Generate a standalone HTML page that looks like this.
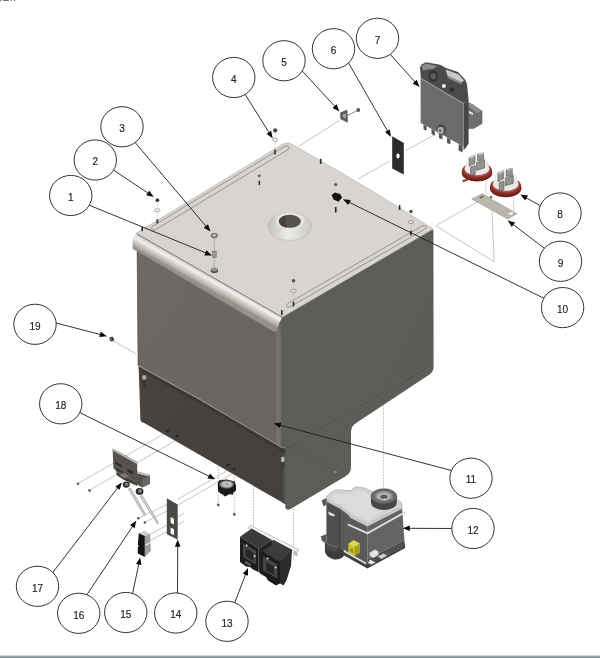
<!DOCTYPE html>
<html><head><meta charset="utf-8"><title>Exploded view</title>
<style>
html,body{margin:0;padding:0;background:#fff;}
svg{display:block}
.n{font-family:"Liberation Sans",Arial,sans-serif;font-size:10px;fill:#222;stroke:#222;stroke-width:0.15px}
</style></head><body>
<svg width="600" height="658" viewBox="0 0 600 658">
<defs>
<linearGradient id="gFront" x1="0" y1="0" x2="1" y2="1">
<stop offset="0" stop-color="#6e6964"/><stop offset="0.5" stop-color="#6b6661"/><stop offset="1" stop-color="#6a6560"/>
</linearGradient>
<linearGradient id="gLow" x1="0" y1="0" x2="1" y2="1">
<stop offset="0" stop-color="#48433f"/><stop offset="1" stop-color="#443f3b"/>
</linearGradient>
<linearGradient id="gRight" x1="0" y1="0" x2="1" y2="1">
<stop offset="0" stop-color="#5d5e58"/><stop offset="1" stop-color="#5b5c56"/>
</linearGradient>
<linearGradient id="gLid" x1="0" y1="0" x2="1" y2="0">
<stop offset="0" stop-color="#d7d3ce"/><stop offset="1" stop-color="#d9d5d0"/>
</linearGradient>
<linearGradient id="gLip" gradientUnits="userSpaceOnUse" x1="205" y1="272.6" x2="198.8" y2="283.6">
<stop offset="0" stop-color="#c9c5be"/><stop offset="0.3" stop-color="#f3f1ec"/><stop offset="0.55" stop-color="#d6d2cb"/><stop offset="0.85" stop-color="#b3afa8"/><stop offset="1" stop-color="#96928b"/>
</linearGradient>
<linearGradient id="gCone" x1="0" y1="0" x2="1" y2="0">
<stop offset="0" stop-color="#c3c1bc"/><stop offset="0.45" stop-color="#ecebe7"/><stop offset="1" stop-color="#cbc9c4"/>
</linearGradient>
<linearGradient id="gStrip" x1="0" y1="0" x2="0" y2="1">
<stop offset="0" stop-color="#f2f4f4"/><stop offset="0.3" stop-color="#b4bec0"/><stop offset="1" stop-color="#6b7b80"/>
</linearGradient>
</defs>
<rect x="0" y="0" width="600" height="658" fill="#fff"/>
<!-- bottom strip -->
<rect x="0" y="655" width="600" height="3" fill="url(#gStrip)"/>
<!-- cropped header remnant -->
<g fill="#4a4a4a" opacity="0.8"><rect x="0" y="0" width="1.3" height="1"/><rect x="3.3" y="0" width="5.4" height="1"/><rect x="10.7" y="0" width="1.3" height="0.9"/><rect x="14" y="0" width="1.3" height="0.9"/></g>

<!-- ===== faint explode lines (behind) ===== -->
<g stroke="#bcbcbc" stroke-width="0.85" fill="none">
<path d="M298.5 146.5 L340 120"/>
<path d="M347 116 L357 110.5"/>
<path d="M358 179 L390 161"/>
<path d="M405 151 L436 134"/>
<path d="M477.5 201.7 L435.8 225.8 L494.2 261.7 L491.8 207"/>
<path d="M112 340 L136 354"/>
<path d="M79 483 L167 432"/>
<path d="M90 490 L178 439"/>
<path d="M139.4 517.8 L167 504.4"/>
<path d="M145.8 521.8 L167 511"/>
<path d="M150.4 534.2 L167 525"/>
<path d="M150.4 540.4 L167 531.6"/>
<path d="M177.7 499.2 L227 470.8"/>
<path d="M177.7 505.2 L233.6 473"/>
<path d="M177.7 516.8 L184.4 513"/>
<path d="M177.7 524.8 L184.4 521"/>
</g>
<g stroke="#a4a4a4" stroke-width="0.75" fill="none" stroke-dasharray="1.6 1.3">
<path d="M253.5 480 L253.5 527"/>
<path d="M293.5 500 L293.5 560"/>
<path d="M383.6 399 L383.6 491"/>
<path d="M218.3 460 L218.3 504"/>
<path d="M234.3 462 L234.3 514"/>
</g>

<!-- ===== MAIN BOX ===== -->
<!-- right face incl. skirt -->
<path d="M281.3 316.8 L432 229 L433.4 230.2 L433.6 366.5 Q433.6 372 429.5 374.6 L356.5 422.8 Q351 426.2 351 432 L351 467 Q351 473 346 476 L290.5 509 Q287 510.8 285.3 508 L285.3 447 L281.3 447 Z" fill="url(#gRight)"/>
<!-- right face rim lines -->
<path d="M286 446.4 L432.6 363.4" stroke="#6b6c66" stroke-width="0.7" fill="none"/>
<path d="M286 447.4 L432.6 364.4" stroke="#4d4e49" stroke-width="0.8" fill="none"/>
<path d="M286.5 445 L334 470.6" stroke="#4f504b" stroke-width="0.6" fill="none"/>
<ellipse cx="335.4" cy="472" rx="1.7" ry="1.1" fill="#8c8c87"/>
<!-- upper front face -->
<path d="M137 245 L268 320 L281.3 317.4 L281.3 447.8 L198 398.6 L138 365.6 Z" fill="url(#gFront)"/>
<!-- light strip near corner -->
<path d="M276.3 327 L281.3 330 L281.3 447.5 L276.3 444.7 Z" fill="#7a7670" opacity="0.7"/>
<path d="M281.3 318 L281.3 447" stroke="#4e4e4a" stroke-width="0.8"/>
<path d="M137.2 249 L138.2 365.8" stroke="#595651" stroke-width="0.8"/>
<!-- lower front panel -->
<path d="M138.6 366 L198 398.4 L281.3 447.4 L285.5 447.4 L285.5 504.3 L143.8 422.7 Q140.6 422.4 140.4 419.4 Z" fill="url(#gLow)"/>
<path d="M282.6 447.4 L285.5 447.4 L285.5 504.4 L282.6 502.8 Z" fill="#4c4d48"/>
<!-- seam highlight -->
<path d="M137.8 365.6 L198 398.5 L282 447.8" stroke="#a19d97" stroke-width="1.1" fill="none"/>
<path d="M138.8 366.6 L198 399 L285.4 450 L285.4 453.4 L198 402.6 L139 370.2 Z" fill="#3a3632" opacity="0.85"/>
<!-- latches -->
<rect x="142.6" y="379.4" width="3.2" height="7.4" rx="0.6" fill="#39352f"/>
<rect x="142.2" y="375.2" width="4" height="4.6" rx="0.8" fill="#b3b0aa" stroke="#55524e" stroke-width="0.4"/>
<rect x="281.4" y="461.4" width="3" height="5" rx="0.6" fill="#3b3a36"/>
<rect x="281" y="456.8" width="3.6" height="5.2" rx="0.8" fill="#bdbab4" stroke="#55524e" stroke-width="0.4"/>
<!-- little slots on the bottom edge -->
<g stroke="#1e1c1a" stroke-width="1.3" stroke-linecap="round">
<path d="M166.3 431.4 L168.5 430.3"/><path d="M176 436.9 L178.2 435.8"/>
<path d="M226.8 465.6 L229.2 464.4"/><path d="M233 469.2 L235.4 468"/>
</g>

<!-- ===== LID ===== -->
<path d="M135.6 233.5 L281 145.2 Q286.5 141.4 292 144.2 L337 170.3 L370 189.8 L432.4 228.2 Q433.2 229 432 229.8 L283.5 316.6 Q282 317.4 280.5 316.6 Z" fill="url(#gLid)" stroke="#a09d97" stroke-width="0.5"/>
<!-- lid grooves -->
<g fill="#d8d4cf" stroke="#7d7a75" stroke-width="0.7">
<path d="M152.6 226.2 L284.4 146.4 Q287.2 145 288.8 146.8 Q289.6 148.6 287.4 150 L155.2 229.8 Q152.6 231 151.6 229.2 Q151.2 227.4 152.6 226.2 Z"/>
<path d="M287.6 303.6 L422 226 Q424.6 224.8 426 226.4 Q426.6 228 424.8 229.2 L290.2 306.8 Q287.6 308 286.4 306.4 Q286 304.8 287.6 303.6 Z"/>
</g>
<!-- lid front lip -->
<path d="M137.2 234 Q132.3 236.4 132.4 242 L132.7 248.4 L273 331 Q276 332.6 277.4 329.4 Q279.2 322 282.2 317.2 Z" fill="url(#gLip)"/>
<path d="M132.7 248.4 L273 331 Q276 332.6 277.4 329.4" stroke="#8a867f" stroke-width="0.8" fill="none"/>
<path d="M137.2 234 L282.2 317.2" stroke="#75726d" stroke-width="0.9" fill="none"/>

<!-- hole / cone -->
<ellipse cx="289.7" cy="226.4" rx="21.8" ry="14" fill="url(#gCone)" stroke="#b5b3ad" stroke-width="0.5"/>
<ellipse cx="290" cy="221" rx="14" ry="8.8" fill="#e6e4df"/>
<ellipse cx="289.8" cy="221.3" rx="11" ry="6.5" fill="#55524f"/>
<path d="M286 215.4 A11 6.5 0 0 0 286 227.4 Z" fill="#454240"/>

<!-- ===== lid hardware ===== -->
<g id="hw">
<!-- generic bolts (dark little studs) -->
<g fill="#2a2a2a">
<rect x="141.4" y="226.6" width="1.6" height="4.6" rx="0.6"/>
<rect x="156.6" y="219" width="1.6" height="4.6" rx="0.6"/>
<rect x="274.2" y="149.5" width="1.6" height="5" rx="0.6"/>
<rect x="258.6" y="180.5" width="1.5" height="4.6" rx="0.6"/>
<circle cx="259.3" cy="175.8" r="1.4" fill="#555"/>
<rect x="319.9" y="158.8" width="1.6" height="5.2" rx="0.6"/>
<rect x="334.9" y="207" width="1.7" height="5.6" rx="0.6"/>
<circle cx="335.7" cy="184.4" r="1.5" fill="#555"/>
<rect x="398.8" y="205" width="1.6" height="5" rx="0.6"/>
<rect x="410.2" y="230.5" width="1.6" height="5" rx="0.6"/>
<rect x="292.7" y="301.5" width="1.6" height="5" rx="0.6"/>
<rect x="281" y="310" width="1.6" height="5.2" rx="0.6"/>
</g>
<!-- nut+washer stacks -->
<g>
<line x1="157.4" y1="201" x2="157.4" y2="221" stroke="#aaa" stroke-width="0.5" stroke-dasharray="1 1"/>
<circle cx="157.4" cy="200.2" r="1.9" fill="#3c3c3c"/>
<ellipse cx="157.4" cy="210.2" rx="2.6" ry="1.6" fill="#fff" stroke="#777" stroke-width="0.65"/>
<line x1="275" y1="131" x2="275" y2="150" stroke="#aaa" stroke-width="0.5" stroke-dasharray="1 1"/>
<circle cx="275.2" cy="130.4" r="2.1" fill="#454545"/>
<ellipse cx="275.2" cy="139.8" rx="2.6" ry="1.6" fill="#fff" stroke="#777" stroke-width="0.65"/>
<line x1="411" y1="212" x2="411" y2="231" stroke="#aaa" stroke-width="0.5" stroke-dasharray="1 1"/>
<circle cx="411" cy="211.4" r="1.7" fill="#4a4a4a"/>
<ellipse cx="411" cy="222" rx="2.6" ry="1.6" fill="#e8e6e1" stroke="#777" stroke-width="0.65"/>
<line x1="293.5" y1="281" x2="293.5" y2="302" stroke="#aaa" stroke-width="0.5" stroke-dasharray="1 1"/>
<circle cx="293.5" cy="280.8" r="1.7" fill="#4a4a4a"/>
<ellipse cx="293.5" cy="290.8" rx="2.6" ry="1.6" fill="#e8e6e1" stroke="#777" stroke-width="0.65"/>
</g>
<!-- part 3 nut, part 1 clip + foot -->
<line x1="214.3" y1="238" x2="214.3" y2="268" stroke="#9a9a9a" stroke-width="0.7"/>
<ellipse cx="214.3" cy="235.6" rx="3.3" ry="2.3" fill="#8a8885" stroke="#4a4a4a" stroke-width="0.6"/>
<ellipse cx="214.3" cy="235.2" rx="1.4" ry="0.9" fill="#d8d6d2"/>
<rect x="212.6" y="251.2" width="3.6" height="6.2" fill="#9a9894" stroke="#5a5856" stroke-width="0.5"/>
<ellipse cx="214.4" cy="270.6" rx="3.7" ry="2.5" fill="#3b3d42"/>
<ellipse cx="214.4" cy="269.4" rx="3.3" ry="2" fill="#8d9096"/>
<!-- part 10 cube -->
<path d="M331.6 195 L335 192.6 L340 194 L342.2 197.5 L338.5 201.8 L333.5 199.6 Z" fill="#121212"/>
</g>

<!-- ===== part 5: small bracket + nut ===== -->
<g id="p5">
<line x1="347.5" y1="115.5" x2="357" y2="110.6" stroke="#777" stroke-width="0.6"/>
<path d="M340.5 112.8 L347 110 L347.5 122.3 L340.8 119 Z" fill="#5b5a57" stroke="#3c3c3a" stroke-width="0.5"/>
<path d="M342.6 114.6 L345.8 113.4 L346 118.6 L342.8 117.2 Z" fill="#a9a8a4"/>
<circle cx="358.3" cy="110" r="1.9" fill="#5a5a5a"/>
</g>

<!-- ===== part 6: black plate ===== -->
<g id="p6">
<path d="M392.2 136.2 L403.8 143 L403.8 174.5 L392.2 168.5 Z" fill="#2c2c2b"/>
<ellipse cx="398" cy="155.8" rx="1.7" ry="2.6" fill="#fff"/>
</g>

<!-- ===== part 7: actuator ===== -->
<g id="p7">
<!-- side protrusion -->
<path d="M466 101.8 L472 104.3 L482 111 L482 123.6 L473.6 128.6 L467 128.6 Z" fill="#6e6e6c" stroke="#4a4a48" stroke-width="0.5"/>
<path d="M466 101.8 L472 104.3 L482 111 L477.5 113 L468 106 Z" fill="#8e8e8c"/>
<path d="M468.6 110.8 L473 113 L473 115 L468.6 113 Z" fill="#efefef"/>
<!-- right side strip -->
<path d="M463.5 103.5 L468.6 100 L468.6 143.6 L466 147.5 L463.5 150.3 Z" fill="#474745"/>
<!-- top mechanism -->
<path d="M420 67.5 L421.5 64.5 L426 62.2 L440 64.8 L446 68 L458 72 L465 79.5 L467 84 L468.6 100 L463.5 103.5 L420.9 78.4 Z" fill="#4b4b49"/>
<path d="M421.5 65.8 L426 63.6 L437 66 L434 68.5 L423 70.5 Z" fill="#8e8e8c"/>
<path d="M445.5 69.5 L458.5 74.2 L464 80.5 L461.5 82.6 L447.5 75.8 Z" fill="#c9c9c7"/>
<path d="M447.5 75.8 L461.5 82.6 L461.5 84.6 L447.5 78 Z" fill="#8a8a88"/>
<ellipse cx="433.3" cy="76.2" rx="4.8" ry="5.6" fill="#343433"/>
<ellipse cx="433.3" cy="76.2" rx="2.6" ry="3.1" fill="#5e5e5c"/>
<circle cx="443.9" cy="86" r="2" fill="#f2f2f2"/>
<circle cx="452" cy="89.5" r="2.2" fill="#2e2e2d"/>
<!-- front face -->
<path d="M420.9 78.4 L463.5 103.5 L463.5 146.5 L420.9 123 Z" fill="#6b6b69"/>
<path d="M420.9 78.4 L463.5 103.5" stroke="#a3a3a1" stroke-width="1" fill="none"/>
<path d="M420.9 78.4 L420.9 123" stroke="#8a8a88" stroke-width="0.7" fill="none"/>
<!-- feet -->
<g fill="#555553">
<path d="M423.5 124.5 L426.5 126.2 L426.5 130.8 L423.5 129.2 Z"/>
<path d="M431.5 129 L434.8 130.8 L434.8 135.6 L431.5 134 Z"/>
<path d="M439 133.2 L442.4 135 L442.4 139.6 L439 138 Z"/>
<path d="M447 137.6 L450.4 139.4 L450.4 144.4 L447 142.8 Z"/>
<path d="M458.6 144 L462.6 146 L462.6 152.4 L458.6 150.6 Z"/>
</g>
<!-- round connector -->
<ellipse cx="441.4" cy="129.6" rx="4.6" ry="5" fill="#4a4a48"/>
<ellipse cx="440.6" cy="130.4" rx="3.1" ry="3.4" fill="#b9b9b7"/>
<ellipse cx="440.2" cy="130.8" rx="1.5" ry="1.7" fill="#6a6a68"/>
</g>

<!-- ===== part 9: plate ===== -->
<g id="p9">
<path d="M471.7 199 L482.3 193.7 L517 213.7 L507.7 219 Z" fill="#b9b6ab" stroke="#8f8c82" stroke-width="0.5"/>
<path d="M479.2 197.4 L482.6 195.8 L484 196.6 L480.6 198.3 Z" fill="#4e4c48"/>
<path d="M508.4 213.8 L512 212 L513.8 213 L510.2 214.9 Z" fill="#fff"/>
<circle cx="491" cy="197.2" r="1.2" fill="#7a3a34"/>
<line x1="486" y1="181" x2="486" y2="196.3" stroke="#b5b5b5" stroke-width="0.6"/>
<line x1="491.4" y1="197" x2="491.8" y2="208" stroke="#b5b5b5" stroke-width="0.6"/>
<line x1="513.6" y1="197" x2="513.6" y2="211.5" stroke="#b5b5b5" stroke-width="0.6"/>
</g>

<!-- ===== part 8: pressure switches ===== -->
<g id="p8">
<path d="M462.2 180.2 L467.5 178.8 L468.0 180.6 L462.8 182.2 Z" fill="#8c3a30"/>
<ellipse cx="477" cy="172.8" rx="15.3" ry="8.8" fill="#6f231c"/>
<ellipse cx="477" cy="170.6" rx="14.9" ry="8.2" fill="#8e3129"/>
<ellipse cx="477" cy="169.8" rx="13.1" ry="7.0" fill="#a8564e"/>
<path d="M464.6 168.6 A12.4 6.6 0 0 0 489.4 168.6 L487.4 161.6 L466.6 161.6 Z" fill="#e9e9e7"/>
<ellipse cx="477" cy="161.6" rx="10.4" ry="5.6" fill="#f8f8f7" stroke="#cfcfcd" stroke-width="0.4"/>
<g fill="#93938f" stroke="#454543" stroke-width="0.55">
<path d="M469.2 157.8 L475.0 155.0 L475.0 163.2 L469.2 166.0 Z"/>
<path d="M477.6 154.2 L483.6 152.8 L483.6 159.6 L477.6 161.0 Z"/>
<path d="M476.6 162.6 L484.6 160.0 L484.6 167.8 L476.6 170.4 Z"/>
<path d="M470.6 167.0 L475.2 165.4 L475.2 174.4 L470.6 176.0 Z"/>
</g>
<g fill="#d6d6d4">
<path d="M469.2 157.8 L475.0 155.0 L476.4 155.8 L470.6 158.6 Z"/>
<path d="M477.6 154.2 L483.6 152.8 L485.0 153.6 L479.0 155.0 Z"/>
</g>
<ellipse cx="505.7" cy="188.2" rx="15.8" ry="9.1" fill="#6f231c"/>
<ellipse cx="505.7" cy="186.0" rx="15.4" ry="8.5" fill="#8e3129"/>
<ellipse cx="505.7" cy="185.2" rx="13.6" ry="7.3" fill="#a8564e"/>
<path d="M492.9 184.0 A12.8 6.8 0 0 0 518.5 184.0 L516.4 177.0 L495.0 177.0 Z" fill="#e9e9e7"/>
<ellipse cx="505.7" cy="177.0" rx="10.7" ry="5.8" fill="#f8f8f7" stroke="#cfcfcd" stroke-width="0.4"/>
<g fill="#93938f" stroke="#454543" stroke-width="0.55">
<path d="M497.9 173.2 L503.7 170.4 L503.7 178.6 L497.9 181.4 Z"/>
<path d="M506.3 169.6 L512.3 168.2 L512.3 175.0 L506.3 176.4 Z"/>
<path d="M505.3 178.0 L513.3 175.4 L513.3 183.2 L505.3 185.8 Z"/>
<path d="M499.3 182.4 L503.9 180.8 L503.9 189.8 L499.3 191.4 Z"/>
</g>
<g fill="#d6d6d4">
<path d="M497.9 173.2 L503.7 170.4 L505.1 171.2 L499.3 174.0 Z"/>
<path d="M506.3 169.6 L512.3 168.2 L513.7 169.0 L507.7 170.4 Z"/>
</g>
</g>

<!-- ===== part 19: screw ===== -->
<g id="p19">
<path d="M109.4 337.4 L112.6 336.6 L114.4 339.8 L112 341.8 L110 340.6 Z" fill="#3a3a38"/>
<circle cx="111.4" cy="338.8" r="0.9" fill="#777775"/>
</g>

<!-- ===== part 17: bracket with rollers and rods ===== -->
<g id="p17">
<!-- screws -->
<circle cx="78" cy="483.8" r="1.4" fill="#6a6a68"/>
<circle cx="89.5" cy="490.5" r="1.4" fill="#6a6a68"/>
<!-- rods -->
<path d="M128.4 489 L130.6 488 L145.4 513.8 L144.2 515.4 Z" fill="#d2d2d0" stroke="#7b7b79" stroke-width="0.5"/>
<path d="M140 496.6 L142.2 495.4 L158.4 522.4 L157.6 524 Z" fill="#d2d2d0" stroke="#7b7b79" stroke-width="0.5"/>
<!-- tray -->
<path d="M137 471.4 L150 474.9 L150 483.8 L142.4 487.4 L137 484.6 Z" fill="#54514d"/>
<path d="M137 471.4 L150 474.9 L148.6 476.4 L137 473.4 Z" fill="#c2c0bb"/>
<path d="M142.4 479 L150 476 L150 483.8 L142.4 487.4 Z" fill="#6b6864"/>
<!-- back plate -->
<path d="M112.6 448.5 L137.2 462 L137.2 482.6 L116.4 471.6 L113.4 468 Z" fill="#56534f"/>
<path d="M112.6 448.5 L137.2 462 L137.2 464.2 L112.6 450.6 Z" fill="#b9b6b0"/>
<g fill="#2f2d2b">
<path d="M115.2 461.4 L121.8 465 L121.8 467.6 L115.2 464 Z"/>
<path d="M127.2 468.4 L133 471.6 L133 474.4 L127.2 471.2 Z"/>
<path d="M116.6 468.2 L122.4 471.4 L122.4 473.4 L116.6 470.2 Z"/>
</g>
<path d="M116.4 471.6 L137.2 482.6 L137.2 486 L124 480 L116.4 475 Z" fill="#46433f"/>
<path d="M119.6 475.2 L123.6 473.2 L129 476 L125 478.2 Z" fill="#7d7a75"/>
<!-- rollers -->
<ellipse cx="126.2" cy="484.6" rx="3.5" ry="3.1" fill="#302f2d"/>
<ellipse cx="126.6" cy="484.2" rx="1.7" ry="1.5" fill="#8c8a86"/>
<ellipse cx="139.6" cy="491.4" rx="3.9" ry="3.4" fill="#302f2d"/>
<ellipse cx="140" cy="491" rx="1.9" ry="1.7" fill="#8c8a86"/>
</g>

<!-- ===== part 16: screws ===== -->
<g id="p16" fill="#5a5a58">
<circle cx="138.3" cy="518.3" r="1.3"/>
<circle cx="144.9" cy="522.5" r="1.3"/>
</g>

<!-- ===== part 15: microswitch ===== -->
<g id="p15">
<path d="M138.8 533.2 L144.3 530.6 L150.1 533.8 L144.8 536.1 Z" fill="#cfcfcd"/>
<path d="M144.8 536.1 L150.1 533.8 L150.9 550.7 L144.8 557.1 Z" fill="#9d9d9b"/>
<path d="M144.8 544.6 L150.5 542 L150.5 543.4 L144.8 546 Z" fill="#e2e2e0"/>
<path d="M138.8 533.2 L144.8 536.1 L144.8 557.1 L137.8 553.6 L137.8 547 L139 546 L137.8 544.4 Z" fill="#121212"/>
</g>

<!-- ===== part 14: plate with 2 square holes ===== -->
<g id="p14">
<path d="M166.8 498.2 L177.7 504.6 L177.7 539.6 L166.8 534.3 Z" fill="#4b4946"/>
<path d="M170.6 517 L174 518.8 L174 524.4 L170.6 522.8 Z" fill="#fff"/>
<path d="M170.6 527.4 L174 529.2 L174 535 L170.6 533.4 Z" fill="#fff"/>
</g>

<!-- ===== part 18 ===== -->
<g id="p18">
<circle cx="218.3" cy="505" r="1.4" fill="#5a5a58"/>
<circle cx="234.3" cy="514.5" r="1.4" fill="#5a5a58"/>
<path d="M217.8 483.4 L219 480.4 L226.5 479.4 L234.6 481.6 L236 485.6 L236 490.4 L233.4 492.6 L232.6 495 L230 494 L227 495.4 L224.6 496.4 L222.8 494.4 L220.4 493.6 L218 491 Z" fill="#191919"/>
<ellipse cx="226.6" cy="484.4" rx="7.2" ry="4.2" fill="#8d8b86" stroke="#42413f" stroke-width="0.6"/>
<ellipse cx="226.8" cy="484.2" rx="4.8" ry="2.7" fill="#c6c4bf"/>
<ellipse cx="227" cy="484" rx="1.6" ry="1" fill="#8d8b86"/>
</g>

<!-- ===== part 13: double pump on rail ===== -->
<g id="p13">
<!-- rail -->
<path d="M248.8 526.6 L250.4 525.6 L298.2 549.4 L298.2 551.4 L296.8 552.2 L248.8 528.4 Z" fill="#f4f4f3" stroke="#8f8f8d" stroke-width="0.55"/>
<path d="M294.4 552 L297 553.2 L297 556 L294.4 554.8 Z" fill="#bdbdbb" stroke="#8a8a88" stroke-width="0.4"/>
<!-- pump 2 (right) -->
<path d="M260 550 L273.5 540 L292 550 L291 566 L286.6 580 L283.6 585.4 L280 583.6 Z" fill="#2b2b2a"/>
<path d="M260 550 L273.5 540 L292 550 L280 562 Z" fill="#3c3c3a"/>
<path d="M260 550 L280 562 L280 583.6 L276 585.6 L268 580.6 L266 577 L260 573.6 Z" fill="#1c1c1b"/>
<path d="M263 556.2 L277.4 564.6 L277.4 578.6 L263 570.4 Z" fill="#454543"/>
<path d="M266.4 562 L274 566.4 L274 574.8 L266.4 570.6 Z" fill="#262625"/>
<circle cx="267.6" cy="558.4" r="1" fill="#dcdcda"/>
<circle cx="275.6" cy="567.4" r="1" fill="#dcdcda"/>
<!-- pump 1 (left) -->
<path d="M240 536.8 L251.7 528.4 L271.8 540 L258.4 548.5 Z" fill="#3b3b39"/>
<path d="M258.4 548.5 L271.8 540 L271.8 545 L261 552 L260.4 573 L258.4 572 Z" fill="#252524"/>
<path d="M240 536.8 L258.4 548.5 L258.4 572 L253 569.4 L250 567 L246 566.4 L240 562 Z" fill="#1c1c1b"/>
<path d="M243 543 L256 550.8 L256 564.4 L243 557 Z" fill="#454543"/>
<path d="M245.6 548.4 L253.4 553 L253.4 561 L245.6 556.6 Z" fill="#262625"/>
<circle cx="246.6" cy="545.6" r="1" fill="#dcdcda"/>
<circle cx="254.6" cy="556" r="1" fill="#dcdcda"/>
<path d="M245 560.6 L251 564 L251 566.6 L245 563.4 Z" fill="#5b5b59"/>
</g>

<!-- ===== part 12: tank ===== -->
<g id="p12">
<!-- base: dark cylinder + ledge -->
<path d="M324.8 541 L325 552 Q327 557.6 334 559.4 Q341 560 343.8 556 L344 548 Z" fill="#3b3b39"/>
<ellipse cx="334.4" cy="547" rx="9.6" ry="4.6" fill="#4a4a48"/>
<path d="M337.8 546.6 L367.2 563 L404.6 543.4 L405.2 548 L367.4 568.6 L337.8 552 Z" fill="#3f3f3d"/>
<!-- left face -->
<path d="M326.4 500 L340 507 L340 549 L326.4 542.6 Z" fill="#4e4e4c"/>
<!-- middle face -->
<path d="M340 507 L350.7 517 L367.4 525.6 L367.4 565 L340 549 Z" fill="#5a5a58"/>
<path d="M340 507 L340 549" stroke="#3c3c3a" stroke-width="0.7"/>
<!-- right face -->
<path d="M367.4 525.6 L402.2 508.6 L404.4 540.2 L367.4 559.4 Z" fill="#646462"/>
<path d="M367.4 559.4 L404.4 540.2 L405 547 L367.4 566.6 Z" fill="#4b4b49"/>
<g stroke="#6e6e6c" stroke-width="0.5">
<path d="M386 551.6 L386 556.4"/><path d="M389 550 L389 554.8"/><path d="M392 548.4 L392 553.2"/><path d="M395 546.8 L395 551.6"/><path d="M398 545.2 L398 550"/><path d="M401 543.6 L401 548.4"/>
</g>
<!-- white band -->
<path d="M347.7 523.4 L367.4 532.2 L404.2 511.8 L404.6 513.6 L367.4 534.2 L347.7 525.2 Z" fill="#ecece9" stroke="#9a9a98" stroke-width="0.3"/>
<!-- lid -->
<path d="M326.4 496.8 L330.2 492.8 L336.3 489.8 L350.7 490.6 L355.3 486.8 L365.2 488.2 L372 491.4 L396 498.6 L401.6 502.8 L402.2 508.6 L367.4 526.4 L350.7 518 L347.7 514.2 L339.3 508.2 L326.4 501.6 Z" fill="#d3d3d1" stroke="#8e8e8c" stroke-width="0.5"/>
<path d="M333 494 L350 494 L356 490.6 L364 491.6 L370 495 L384 510 L367 521 L352 513.6 L341 504.6 L332 500 Z" fill="#dcdcda"/>
<path d="M326.4 499.6 L339.3 506.2 L347.7 512.2 L350.7 516 L367.4 524.4 L402 506.6" fill="none" stroke="#a9a9a7" stroke-width="0.6"/>
<!-- round port -->
<path d="M371 496.6 L371 502.4 A12.9 7.6 0 0 0 396.8 502.4 L396.8 496.6 Z" fill="#474745"/>
<ellipse cx="383.9" cy="496.4" rx="12.9" ry="7.6" fill="#6f6f6d" stroke="#3f3f3d" stroke-width="0.6"/>
<ellipse cx="383.9" cy="496" rx="9.6" ry="5.6" fill="#8f8f8d" stroke="#4a4a48" stroke-width="0.5"/>
<ellipse cx="383.9" cy="496.2" rx="6.6" ry="3.8" fill="#b3b3b1"/>
<ellipse cx="383.9" cy="496.8" rx="3.6" ry="2.1" fill="#5a5a58"/>
<ellipse cx="384.6" cy="499.6" rx="1.6" ry="1" fill="#d0d0ce"/>
<!-- clips on left -->
<path d="M321.6 500.4 L326.4 498 L326.4 504.6 L323.6 506.4 Z" fill="#585856"/>
<path d="M328.4 511.6 L334.6 514.6 L334.6 516.6 L330 515.4 L328.4 513.6 Z" fill="#dededc"/>
<path d="M320.6 536.4 L326.4 534 L326.4 541 L322.6 541.6 Z" fill="#585856"/>
<path d="M321.4 539.4 Q328 545.6 338 547.4" fill="none" stroke="#6a6a68" stroke-width="1.2"/>
<!-- yellow connector -->
<path d="M348.4 544 L353.4 540.2 L359.8 543.6 L359.8 552.6 L354.4 556 L348.4 552.4 Z" fill="#c7c22c"/>
<path d="M348.4 544 L353.4 540.2 L359.8 543.6 L354.6 547 Z" fill="#dcd84e"/>
<path d="M354.6 547 L359.8 543.6 L359.8 552.6 L354.4 556 Z" fill="#a49f1e"/>
<path d="M350.4 548 L353 549.6 L353 553 L350.4 551.4 Z" fill="#8f8a18"/>
<!-- light pieces along the bottom -->
<path d="M343.8 549.6 L348.4 552.4 L354.4 556 L366 562.6 L366 564.6 L343.8 552 Z" fill="#deded9"/>
<path d="M369.6 552.6 L375 549.6 L378.6 551.6 L378.6 555 L373.4 558 L369.6 556 Z" fill="#e4e4e2" stroke="#7b7b79" stroke-width="0.4"/>
<path d="M377.6 556.6 L383.4 553.4 L387.4 555.6 L381.6 559 Z" fill="#cfcfcd" stroke="#7b7b79" stroke-width="0.4"/>
<path d="M370 559.6 L375.6 562.4 L371.4 564.6 L368 563 Z" fill="#e4e4e2"/>
</g>

<g style="filter:grayscale(1)">
<line x1="86.3" y1="204.0" x2="206.3" y2="253.1" stroke="#1c1c1c" stroke-width="0.9"/>
<polygon points="212.0,255.5 204.3,255.4 206.4,250.2" fill="#0a0a0a"/>
<ellipse cx="70.75" cy="195.5" rx="21.2" ry="20.1" fill="#fff" stroke="#1c1c1c" stroke-width="0.9"/>
<text x="70.75" y="200.7" text-anchor="middle" class="n">1</text>
<line x1="110.9" y1="168.3" x2="148.6" y2="193.5" stroke="#1c1c1c" stroke-width="0.9"/>
<polygon points="153.8,197.0 146.2,195.3 149.3,190.7" fill="#0a0a0a"/>
<ellipse cx="95.25" cy="160" rx="21.2" ry="20.1" fill="#fff" stroke="#1c1c1c" stroke-width="0.9"/>
<text x="95.25" y="165.2" text-anchor="middle" class="n">2</text>
<line x1="132.9" y1="139.9" x2="206.5" y2="226.8" stroke="#1c1c1c" stroke-width="0.9"/>
<polygon points="210.5,231.5 203.7,227.8 208.0,224.2" fill="#0a0a0a"/>
<ellipse cx="122" cy="126.8" rx="21.2" ry="20.1" fill="#fff" stroke="#1c1c1c" stroke-width="0.9"/>
<text x="122" y="132.0" text-anchor="middle" class="n">3</text>
<line x1="243.4" y1="91.6" x2="269.4" y2="133.1" stroke="#1c1c1c" stroke-width="0.9"/>
<polygon points="272.7,138.4 266.5,133.8 271.2,130.8" fill="#0a0a0a"/>
<ellipse cx="233.75" cy="77.5" rx="21.2" ry="20.1" fill="#fff" stroke="#1c1c1c" stroke-width="0.9"/>
<text x="233.75" y="82.7" text-anchor="middle" class="n">4</text>
<line x1="299.8" y1="68.3" x2="335.2" y2="106.8" stroke="#1c1c1c" stroke-width="0.9"/>
<polygon points="339.4,111.4 332.5,108.0 336.6,104.2" fill="#0a0a0a"/>
<ellipse cx="284" cy="60.75" rx="21.2" ry="20.1" fill="#fff" stroke="#1c1c1c" stroke-width="0.9"/>
<text x="284" y="66.0" text-anchor="middle" class="n">5</text>
<line x1="348.0" y1="62.0" x2="387.9" y2="131.6" stroke="#1c1c1c" stroke-width="0.9"/>
<polygon points="391.0,137.0 385.0,132.1 389.8,129.4" fill="#0a0a0a"/>
<ellipse cx="333.5" cy="48.75" rx="21.2" ry="20.1" fill="#fff" stroke="#1c1c1c" stroke-width="0.9"/>
<text x="333.5" y="54.0" text-anchor="middle" class="n">6</text>
<line x1="388.6" y1="52.5" x2="415.4" y2="82.4" stroke="#1c1c1c" stroke-width="0.9"/>
<polygon points="419.5,87.0 412.6,83.5 416.8,79.8" fill="#0a0a0a"/>
<ellipse cx="377.5" cy="38.3" rx="21.2" ry="20.1" fill="#fff" stroke="#1c1c1c" stroke-width="0.9"/>
<text x="377.5" y="43.5" text-anchor="middle" class="n">7</text>
<line x1="543.5" y1="207.4" x2="525.7" y2="197.6" stroke="#1c1c1c" stroke-width="0.9"/>
<polygon points="520.3,194.6 528.0,195.6 525.2,200.5" fill="#0a0a0a"/>
<ellipse cx="560" cy="213" rx="21.2" ry="20.1" fill="#fff" stroke="#1c1c1c" stroke-width="0.9"/>
<text x="560" y="218.2" text-anchor="middle" class="n">8</text>
<line x1="547.2" y1="250.4" x2="512.6" y2="224.1" stroke="#1c1c1c" stroke-width="0.9"/>
<polygon points="507.7,220.3 515.1,222.4 511.7,226.9" fill="#0a0a0a"/>
<ellipse cx="560.5" cy="261.3" rx="21.2" ry="20.1" fill="#fff" stroke="#1c1c1c" stroke-width="0.9"/>
<text x="560.5" y="266.5" text-anchor="middle" class="n">9</text>
<line x1="547.8" y1="300.2" x2="348.6" y2="202.0" stroke="#1c1c1c" stroke-width="0.9"/>
<polygon points="343.0,199.3 350.7,200.0 348.2,205.0" fill="#0a0a0a"/>
<ellipse cx="562.6" cy="307.6" rx="21.2" ry="20.1" fill="#fff" stroke="#1c1c1c" stroke-width="0.9"/>
<text x="562.6" y="312.8" text-anchor="middle" class="n">10</text>
<line x1="454.1" y1="471.2" x2="279.7" y2="425.1" stroke="#1c1c1c" stroke-width="0.9"/>
<polygon points="273.7,423.5 281.4,422.6 279.9,428.0" fill="#0a0a0a"/>
<ellipse cx="471" cy="478.2" rx="21.2" ry="20.1" fill="#fff" stroke="#1c1c1c" stroke-width="0.9"/>
<text x="471" y="483.4" text-anchor="middle" class="n">11</text>
<line x1="456.0" y1="528.5" x2="408.8" y2="528.3" stroke="#1c1c1c" stroke-width="0.9"/>
<polygon points="402.6,528.3 409.8,525.5 409.8,531.1" fill="#0a0a0a"/>
<ellipse cx="473" cy="528.5" rx="21.2" ry="20.1" fill="#fff" stroke="#1c1c1c" stroke-width="0.9"/>
<text x="473" y="533.7" text-anchor="middle" class="n">12</text>
<line x1="233.6" y1="605.7" x2="245.8" y2="573.8" stroke="#1c1c1c" stroke-width="0.9"/>
<polygon points="248.0,568.0 248.0,575.7 242.8,573.7" fill="#0a0a0a"/>
<ellipse cx="227" cy="621.3" rx="21.2" ry="20.1" fill="#fff" stroke="#1c1c1c" stroke-width="0.9"/>
<text x="227" y="626.5" text-anchor="middle" class="n">13</text>
<line x1="177.5" y1="596.5" x2="177.7" y2="545.8" stroke="#1c1c1c" stroke-width="0.9"/>
<polygon points="177.7,539.6 180.5,546.8 174.9,546.8" fill="#0a0a0a"/>
<ellipse cx="175.75" cy="613" rx="21.2" ry="20.1" fill="#fff" stroke="#1c1c1c" stroke-width="0.9"/>
<text x="175.75" y="618.2" text-anchor="middle" class="n">14</text>
<line x1="131.7" y1="597.7" x2="138.9" y2="563.5" stroke="#1c1c1c" stroke-width="0.9"/>
<polygon points="140.2,557.4 141.4,565.0 136.0,563.9" fill="#0a0a0a"/>
<ellipse cx="125.75" cy="612.5" rx="21.2" ry="20.1" fill="#fff" stroke="#1c1c1c" stroke-width="0.9"/>
<text x="125.75" y="617.7" text-anchor="middle" class="n">15</text>
<line x1="84.8" y1="597.8" x2="132.9" y2="525.9" stroke="#1c1c1c" stroke-width="0.9"/>
<polygon points="136.3,520.7 134.6,528.2 130.0,525.1" fill="#0a0a0a"/>
<ellipse cx="78.75" cy="613.3" rx="21.2" ry="20.1" fill="#fff" stroke="#1c1c1c" stroke-width="0.9"/>
<text x="78.75" y="618.5" text-anchor="middle" class="n">16</text>
<line x1="51.3" y1="574.4" x2="118.1" y2="487.3" stroke="#1c1c1c" stroke-width="0.9"/>
<polygon points="121.9,482.4 119.7,489.8 115.3,486.4" fill="#0a0a0a"/>
<ellipse cx="37.5" cy="586.3" rx="21.2" ry="20.1" fill="#fff" stroke="#1c1c1c" stroke-width="0.9"/>
<text x="37.5" y="591.5" text-anchor="middle" class="n">17</text>
<line x1="76.9" y1="411.2" x2="209.6" y2="476.5" stroke="#1c1c1c" stroke-width="0.9"/>
<polygon points="215.2,479.2 207.5,478.5 210.0,473.5" fill="#0a0a0a"/>
<ellipse cx="60.75" cy="403.8" rx="21.2" ry="20.1" fill="#fff" stroke="#1c1c1c" stroke-width="0.9"/>
<text x="60.75" y="409.0" text-anchor="middle" class="n">18</text>
<line x1="52.4" y1="322.0" x2="101.0" y2="334.7" stroke="#1c1c1c" stroke-width="0.9"/>
<polygon points="107.0,336.2 99.3,337.1 100.7,331.7" fill="#0a0a0a"/>
<ellipse cx="35" cy="324.3" rx="21.2" ry="20.1" fill="#fff" stroke="#1c1c1c" stroke-width="0.9"/>
<text x="35" y="329.5" text-anchor="middle" class="n">19</text>
</g>
</svg>
</body></html>
